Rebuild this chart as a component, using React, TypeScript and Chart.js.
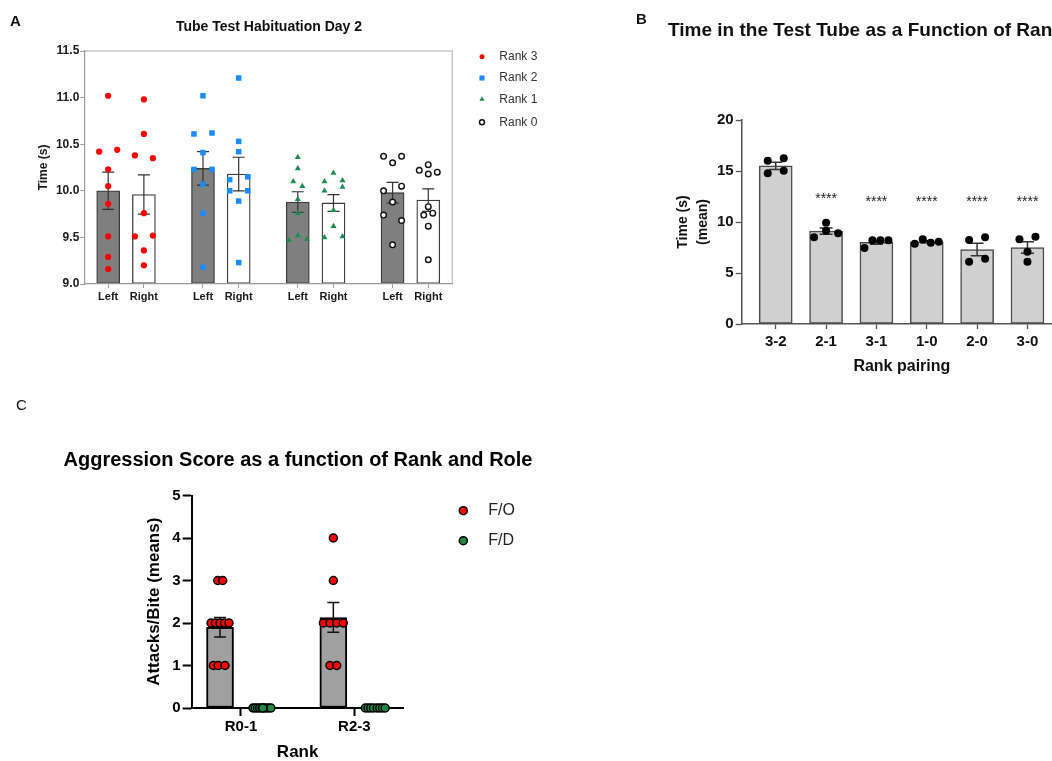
import React, { useEffect, useRef } from 'react';
import { Chart, registerables } from 'chart.js';

Chart.register(...registerables);

const FONT = '"Liberation Sans", Arial, Helvetica, sans-serif';

// ---------------- Panel A data ----------------
const aRanks = ['Rank 3', 'Rank 2', 'Rank 1', 'Rank 0'];
const aSides = ['Left', 'Right'];
const aMeans = [10.0, 9.96, 10.24, 10.18, 9.88, 9.87, 9.98, 9.9];
const aSems = [0.2, 0.21, 0.18, 0.18, 0.11, 0.09, 0.11, 0.12];
const aYTicks = [9.0, 9.5, 10.0, 10.5, 11.0, 11.5];

const aRank3Left = [11.02, 10.42, 10.44, 10.23, 10.05, 9.86, 9.51, 9.29, 9.16];
const aRank3Right = [10.98, 10.61, 10.38, 10.35, 9.76, 9.51, 9.52, 9.36, 9.2];
const aRank2Left = [11.02, 10.61, 10.62, 10.41, 10.23, 10.23, 10.07, 9.76, 9.18];
const aRank2Right = [11.21, 10.53, 10.42, 10.12, 10.15, 10.0, 10.0, 9.89, 9.23];
const aRank1Left = [10.36, 10.24, 10.1, 10.05, 9.91, 9.76, 9.47, 9.52, 9.48];
const aRank1Right = [10.19, 10.1, 10.11, 10.0, 10.04, 9.79, 9.62, 9.5, 9.51];
const aRank0Left = [10.37, 10.3, 10.37, 10.0, 10.05, 9.88, 9.74, 9.68, 9.42];
const aRank0Right = [10.28, 10.22, 10.18, 10.2, 9.83, 9.74, 9.76, 9.62, 9.26];

// beeswarm slots (side-by-side placement of tied points)
const aSlot3L = [0, -1, 1, 0, 0, 0, 0, 0, 0];
const aSlot3R = [0, 0, -1, 1, 0, -1, 1, 0, 0];
const aSlot2L = [0, -1, 1, 0, -1, 1, 0, 0, 0];
const aSlot2R = [0, 0, 0, -1, 1, -1, 1, 0, 0];
const aSlot1L = [0, 0, -0.5, 0.5, 0, 0, -1, 0, 1];
const aSlot1R = [0, -1, 1, -1, 1, 0, 0, -1, 1];
const aSlot0L = [-1, 0, 1, -1, 1, 0, -1, 1, 0];
const aSlot0R = [0, -1, 0, 1, 0, -0.5, 0.5, 0, 0];

// ---------------- Panel B data ----------------
const bPairs = ['3-2', '2-1', '3-1', '1-0', '2-0', '3-0'];
const bMeans = [15.5, 9.1, 8.0, 8.05, 7.3, 7.5];
const bSems = [0.36, 0.3, 0.19, 0.1, 0.62, 0.57];
const bYTicks = [0, 5, 10, 15, 20];
const bSig = ['', '****', '****', '****', '****', '****'];
const bSigY = [0, 12.2, 11.9, 11.9, 11.9, 11.9];

const b32 = [16.01, 16.24, 14.77, 15.03];
const b21 = [9.93, 8.5, 8.89, 9.15];
const b31 = [7.45, 8.2, 8.2, 8.2];
const b10 = [7.86, 8.31, 7.97, 8.07];
const b20 = [8.24, 8.5, 6.11, 6.4];
const b30 = [8.3, 8.56, 7.09, 6.11];

const bSlot32 = [-2, 2, -2, 2];
const bSlot21 = [0, -3, 3, 0];
const bSlot31 = [-3, -1, 1, 3];
const bSlot10 = [-3, -1, 1, 3];
const bSlot20 = [-2, 2, -2, 2];
const bSlot30 = [-2, 2, 0, 0];

// ---------------- Panel C data ----------------
const cGroups = ['R0-1', 'R2-3'];
const cRoles = ['F/O', 'F/D'];
const cFOMeans = [1.9, 2.13];
const cFOSems = [0.23, 0.35];
const cFDMeans = [0, 0];
const cFDSems = [0, 0];
const cYTicks = [0, 1, 2, 3, 4, 5];

const cFO01 = [3, 3, 2, 2, 2, 2, 2, 1, 1, 1];
const cFO23 = [4, 3, 2, 2, 2, 2, 1, 1];
const cFD01 = [0, 0, 0, 0, 0, 0, 0, 0, 0, 0];
const cFD23 = [0, 0, 0, 0, 0, 0, 0, 0];

const cSlotFO01 = [-0.5, 0.6, -2, -1, 0, 1, 2, -1.5, -0.4, 1.1];
const cSlotFO23 = [0, 0, -2.2, -0.75, 0.75, 2.2, -0.75, 0.75];
const cSlotFD01 = [-2, -1.5, -1, -0.5, 0, 0.5, 1, 1.5, 2, 0.2];
const cSlotFD23 = [-2.2, -1.6, -1, -0.4, 0.4, 1, 1.6, 2.2];

// ---------------- layout constants ----------------
const A_SIDE = 0.3766; // offset of Right bar within a rank pair
const A_JIT = 0.095; // one beeswarm slot
const B_JIT = 0.0795;
const C_OFF = 0.185; // role offset within group
const C_JIT = 0.0397;

type Marker = 'circle' | 'rect' | 'triangle';

function drawMarker(
  ctx: CanvasRenderingContext2D,
  style: Marker,
  x: number,
  y: number,
  r: number,
  fill: string,
  stroke: string,
  lw: number
) {
  ctx.save();
  ctx.beginPath();
  if (style === 'rect') {
    const s = r * Math.SQRT1_2;
    ctx.rect(x - s, y - s, 2 * s, 2 * s);
  } else if (style === 'triangle') {
    ctx.moveTo(x, y - r);
    ctx.lineTo(x + r * 0.866, y + r * 0.5);
    ctx.lineTo(x - r * 0.866, y + r * 0.5);
    ctx.closePath();
  } else {
    ctx.arc(x, y, r, 0, Math.PI * 2);
  }
  ctx.fillStyle = fill;
  ctx.fill();
  if (lw > 0) {
    ctx.lineWidth = lw;
    ctx.strokeStyle = stroke;
    ctx.stroke();
  }
  ctx.restore();
}

type TextItem = { text: string; x: number; y: number; font: string; color?: string; align?: CanvasTextAlign };

function textPlugin(items: TextItem[]) {
  return {
    id: 'texts',
    afterDraw(chart: any) {
      const ctx: CanvasRenderingContext2D = chart.ctx;
      items.forEach((it) => {
        ctx.save();
        ctx.font = it.font;
        ctx.fillStyle = it.color || '#000';
        ctx.textAlign = it.align || 'left';
        ctx.textBaseline = 'middle';
        ctx.fillText(it.text, it.x, it.y);
        ctx.restore();
      });
    },
  };
}

const errorBarsPlugin = {
  id: 'errorBars',
  afterDatasetDraw(chart: any, args: any) {
    const ds: any = chart.data.datasets[args.index];
    if (!ds.sem) return;
    const ctx: CanvasRenderingContext2D = chart.ctx;
    const xs = chart.scales.x;
    const ys = chart.scales.y;
    ctx.save();
    ctx.strokeStyle = ds.errColor;
    ctx.lineWidth = ds.errWidth;
    ds.data.forEach((p: any, i: number) => {
      const s = ds.sem[i];
      if (!s) return;
      const px = xs.getPixelForValue(p.x);
      const t = ys.getPixelForValue(p.y + s);
      const b = ys.getPixelForValue(p.y - s);
      const c = ds.errCap;
      ctx.beginPath();
      ctx.moveTo(px, t);
      ctx.lineTo(px, b);
      ctx.moveTo(px - c, t);
      ctx.lineTo(px + c, t);
      ctx.moveTo(px - c, b);
      ctx.lineTo(px + c, b);
      ctx.stroke();
    });
    ctx.restore();
  },
};

function legendPlugin(cfg: { x: number; textX: number; ys: number[]; radii: number[]; font: string; color: string }) {
  return {
    id: 'customLegend',
    afterDraw(chart: any) {
      const ctx: CanvasRenderingContext2D = chart.ctx;
      const sets = chart.data.datasets.filter((d: any) => d.type === 'scatter');
      sets.forEach((d: any, i: number) => {
        drawMarker(ctx, d.pointStyle, cfg.x, cfg.ys[i], cfg.radii[i], d.pointBackgroundColor, d.pointBorderColor, d.pointBorderWidth);
        ctx.save();
        ctx.font = cfg.font;
        ctx.fillStyle = cfg.color;
        ctx.textAlign = 'left';
        ctx.textBaseline = 'middle';
        ctx.fillText(d.label, cfg.textX, cfg.ys[i]);
        ctx.restore();
      });
    },
  };
}

const frameAPlugin = {
  id: 'frameA',
  beforeDatasetsDraw(chart: any) {
    const { left, right, top, bottom } = chart.chartArea;
    const ctx: CanvasRenderingContext2D = chart.ctx;
    ctx.save();
    ctx.strokeStyle = '#c6c6c6';
    ctx.lineWidth = 1.5;
    ctx.beginPath();
    ctx.moveTo(left, top);
    ctx.lineTo(right, top);
    ctx.lineTo(right, bottom);
    ctx.stroke();
    ctx.restore();
  },
};

const sigPlugin = {
  id: 'sig',
  afterDatasetsDraw(chart: any) {
    const ctx: CanvasRenderingContext2D = chart.ctx;
    const xs = chart.scales.x;
    const ys = chart.scales.y;
    ctx.save();
    ctx.font = `14px ${FONT}`;
    ctx.fillStyle = '#222';
    ctx.textAlign = 'center';
    ctx.textBaseline = 'middle';
    bSig.forEach((s, i) => {
      if (!s) return;
      ctx.fillText(s, xs.getPixelForValue(i), ys.getPixelForValue(bSigY[i]));
    });
    ctx.restore();
  },
};

const bold = (size: number) => ({ family: FONT, size, weight: 'bold' as const });

// ---------------- Chart A ----------------
function buildA(): any {
  const pos = (g: number, s: number) => g + s * A_SIDE;
  const bars: any[] = [];
  aRanks.forEach((_r, g) => aSides.forEach((_s, s) => bars.push({ x: pos(g, s), y: aMeans[g * 2 + s] })));
  const pts = (vals: number[], slots: number[], g: number, s: number) =>
    vals.map((v, i) => ({ x: pos(g, s) + slots[i] * A_JIT, y: v }));
  const tickPos: number[] = [];
  const tickLab: string[] = [];
  aRanks.forEach((_r, g) => aSides.forEach((lab, s) => { tickPos.push(pos(g, s)); tickLab.push(lab); }));

  return {
    type: 'bar',
    data: {
      datasets: [
        {
          type: 'bar', data: bars, order: 10, base: aYTicks[0],
          backgroundColor: bars.map((_b, i) => (i % 2 === 0 ? '#7f7f7f' : '#ffffff')),
          borderColor: '#3c3c3c', borderWidth: 1.3, borderSkipped: false, barThickness: 23,
          sem: aSems, errColor: '#333', errWidth: 1.2, errCap: 6,
        },
        {
          type: 'scatter', label: aRanks[0], order: 1, clip: false,
          data: [...pts(aRank3Left, aSlot3L, 0, 0), ...pts(aRank3Right, aSlot3R, 0, 1)],
          pointStyle: 'circle', pointRadius: 3.1, pointBackgroundColor: '#ff0000', pointBorderColor: '#ff0000', pointBorderWidth: 0,
        },
        {
          type: 'scatter', label: aRanks[1], order: 1, clip: false,
          data: [...pts(aRank2Left, aSlot2L, 1, 0), ...pts(aRank2Right, aSlot2R, 1, 1)],
          pointStyle: 'rect', pointRadius: 3.9, pointBackgroundColor: '#1a8cff', pointBorderColor: '#1a8cff', pointBorderWidth: 0,
        },
        {
          type: 'scatter', label: aRanks[2], order: 1, clip: false,
          data: [...pts(aRank1Left, aSlot1L, 2, 0), ...pts(aRank1Right, aSlot1R, 2, 1)],
          pointStyle: 'triangle', pointRadius: 3.5, pointBackgroundColor: '#1f8c4f', pointBorderColor: '#1f8c4f', pointBorderWidth: 0,
        },
        {
          type: 'scatter', label: aRanks[3], order: 1, clip: false,
          data: [...pts(aRank0Left, aSlot0L, 3, 0), ...pts(aRank0Right, aSlot0R, 3, 1)],
          pointStyle: 'circle', pointRadius: 2.8, pointBackgroundColor: '#ffffff', pointBorderColor: '#111111', pointBorderWidth: 1.4,
        },
      ],
    },
    options: {
      responsive: false, animation: false, events: [], devicePixelRatio: 1,
      layout: { autoPadding: false, padding: { left: 0, top: 51, right: 147.7, bottom: 0 } },
      plugins: { legend: { display: false }, tooltip: { enabled: false } },
      scales: {
        x: {
          type: 'linear', min: -0.252, max: 3.63, offset: false,
          afterBuildTicks: (s: any) => { s.ticks = tickPos.map((v) => ({ value: v })); },
          afterFit: (s: any) => { s.height = 36; },
          ticks: { autoSkip: false, maxRotation: 0, minRotation: 0, padding: 2, color: '#1a1a1a', font: bold(11), callback: (_v: any, i: number) => tickLab[i] },
          grid: { drawOnChartArea: false, drawTicks: true, tickLength: 4, tickColor: '#9a9a9a', offset: false },
          border: { display: true, color: '#9a9a9a', width: 1.2, z: 1 },
        },
        y: {
          type: 'linear', min: 9, max: 11.5,
          afterBuildTicks: (s: any) => { s.ticks = aYTicks.map((v) => ({ value: v })); },
          afterFit: (s: any) => { s.width = 84.3; },
          ticks: { padding: 1, color: '#1a1a1a', font: bold(12), callback: (v: any) => Number(v).toFixed(1) },
          grid: { drawOnChartArea: false, tickLength: 4, tickColor: '#9a9a9a' },
          border: { display: true, color: '#9a9a9a', width: 1.2, z: 1 },
          title: { display: true, text: 'Time (s)', color: '#1a1a1a', font: bold(12), padding: { top: 36.8, bottom: 0 } },
        },
      },
    },
    plugins: [
      frameAPlugin,
      errorBarsPlugin,
      textPlugin([
        { text: 'A', x: 10, y: 21.5, font: `bold 15px ${FONT}`, color: '#111' },
        { text: 'Tube Test Habituation Day 2', x: 269, y: 27, font: `bold 14px ${FONT}`, color: '#111', align: 'center' },
      ]),
      legendPlugin({ x: 482, textX: 499.3, ys: [56.7, 78, 99.3, 122.3], radii: [2.5, 3.6, 3.0, 2.5], font: `12px ${FONT}`, color: '#333' }),
    ],
  };
}

// ---------------- Chart B ----------------
function buildB(): any {
  const bars = bPairs.map((_p, i) => ({ x: i, y: bMeans[i] }));
  const groups = [b32, b21, b31, b10, b20, b30];
  const slots = [bSlot32, bSlot21, bSlot31, bSlot10, bSlot20, bSlot30];
  const pts: any[] = [];
  groups.forEach((vals, i) => vals.forEach((v, k) => pts.push({ x: i + slots[i][k] * B_JIT, y: v })));
  return {
    type: 'bar',
    data: {
      datasets: [
        {
          type: 'bar', data: bars, order: 10, base: 0,
          backgroundColor: '#d0d0d0', borderColor: '#4a4a4a', borderWidth: 1.5, borderSkipped: false, barThickness: 33,
          sem: bSems, errColor: '#333', errWidth: 1.5, errCap: 6.5,
        },
        {
          type: 'scatter', label: 'Pairs', order: 1, clip: false, data: pts,
          pointStyle: 'circle', pointRadius: 4, pointBackgroundColor: '#000', pointBorderColor: '#000', pointBorderWidth: 0,
        },
      ],
    },
    options: {
      responsive: false, animation: false, events: [], devicePixelRatio: 1,
      layout: { autoPadding: false, padding: { left: 0, top: 120, right: 0, bottom: 0 } },
      plugins: { legend: { display: false }, tooltip: { enabled: false } },
      scales: {
        x: {
          type: 'linear', min: -0.676, max: 5.686, offset: false,
          afterBuildTicks: (s: any) => { s.ticks = bPairs.map((_p, i) => ({ value: i })); },
          afterFit: (s: any) => { s.height = 56; },
          ticks: { autoSkip: false, maxRotation: 0, minRotation: 0, padding: 4, color: '#111', font: bold(15), callback: (_v: any, i: number) => bPairs[i] },
          grid: { drawOnChartArea: false, tickLength: 5, tickColor: '#555', tickWidth: 1.3, offset: false },
          border: { display: true, color: '#555', width: 1.5 },
          title: { display: true, text: 'Rank pairing', color: '#111', font: bold(16), padding: { top: 0, bottom: 3.4 } },
        },
        y: {
          type: 'linear', min: 0, max: 20,
          afterBuildTicks: (s: any) => { s.ticks = bYTicks.map((v) => ({ value: v })); },
          afterFit: (s: any) => { s.width = 111.7; },
          ticks: { padding: 2, color: '#111', font: bold(15) },
          grid: { drawOnChartArea: false, tickLength: 6, tickColor: '#555', tickWidth: 1.3 },
          border: { display: true, color: '#555', width: 1.5 },
          title: { display: true, text: ['Time (s)', '(mean)'], color: '#111', font: { family: FONT, size: 14, weight: 'bold', lineHeight: 1.43 }, padding: { top: 43, bottom: 0 } },
        },
      },
    },
    plugins: [
      errorBarsPlugin,
      sigPlugin,
      textPlugin([
        { text: 'B', x: 6, y: 20, font: `bold 15px ${FONT}`, color: '#111' },
        { text: 'Time in the Test Tube as a Function of Rank', x: 38, y: 31, font: `bold 19px ${FONT}`, color: '#111' },
      ]),
    ],
  };
}

// ---------------- Chart C ----------------
function buildC(): any {
  const bars = [
    ...cGroups.map((_g, i) => ({ x: i - C_OFF, y: cFOMeans[i] })),
    ...cGroups.map((_g, i) => ({ x: i + C_OFF, y: cFDMeans[i] })),
  ];
  const pts = (vals: number[], slots: number[], base: number) => vals.map((v, k) => ({ x: base + slots[k] * C_JIT, y: v }));
  return {
    type: 'bar',
    data: {
      datasets: [
        {
          type: 'bar', data: bars, order: 10, base: 0,
          backgroundColor: '#a0a0a0', borderColor: '#000', borderWidth: 2, borderSkipped: false, barThickness: 27,
          sem: [...cFOSems, ...cFDSems], errColor: '#111', errWidth: 1.5, errCap: 6,
        },
        {
          type: 'scatter', label: cRoles[0], order: 1, clip: false,
          data: [...pts(cFO01, cSlotFO01, 0 - C_OFF), ...pts(cFO23, cSlotFO23, 1 - C_OFF)],
          pointStyle: 'circle', pointRadius: 4, pointBackgroundColor: '#ff0000', pointBorderColor: '#000', pointBorderWidth: 1.5,
        },
        {
          type: 'scatter', label: cRoles[1], order: 1, clip: false,
          data: [...pts(cFD01, cSlotFD01, 0 + C_OFF), ...pts(cFD23, cSlotFD23, 1 + C_OFF)],
          pointStyle: 'circle', pointRadius: 4, pointBackgroundColor: '#1e8a46', pointBorderColor: '#000', pointBorderWidth: 1.5,
        },
      ],
    },
    options: {
      responsive: false, animation: false, events: [], devicePixelRatio: 1,
      layout: { autoPadding: false, padding: { left: 0, top: 105.5, right: 156.4, bottom: 0 } },
      plugins: { legend: { display: false }, tooltip: { enabled: false } },
      scales: {
        x: {
          type: 'linear', min: -0.435, max: 1.435, offset: false,
          afterBuildTicks: (s: any) => { s.ticks = cGroups.map((_g, i) => ({ value: i })); },
          afterFit: (s: any) => { s.height = 53; },
          ticks: { autoSkip: false, maxRotation: 0, minRotation: 0, padding: 2, color: '#000', font: bold(15), callback: (_v: any, i: number) => cGroups[i] },
          grid: { drawOnChartArea: false, tickLength: 8, tickColor: '#000', tickWidth: 2, offset: false },
          border: { display: true, color: '#000', width: 2 },
          title: { display: true, text: 'Rank', color: '#000', font: { family: FONT, size: 17, weight: 'bold', lineHeight: 1 }, padding: { top: 0, bottom: 0 } },
        },
        y: {
          type: 'linear', min: 0, max: 5,
          afterBuildTicks: (s: any) => { s.ticks = cYTicks.map((v) => ({ value: v })); },
          afterFit: (s: any) => { s.width = 191.7; },
          ticks: { padding: 2, color: '#000', font: bold(15) },
          grid: { drawOnChartArea: false, tickLength: 9, tickColor: '#000', tickWidth: 2 },
          border: { display: true, color: '#000', width: 2 },
          title: { display: true, text: 'Attacks/Bite (means)', color: '#000', font: bold(17), padding: { top: 144.4, bottom: 0 } },
        },
      },
    },
    plugins: [
      errorBarsPlugin,
      textPlugin([
        { text: 'C', x: 16, y: 16, font: `15px ${FONT}`, color: '#111' },
        { text: 'Aggression Score as a function of Rank and Role', x: 298, y: 70.7, font: `bold 20px ${FONT}`, color: '#000', align: 'center' },
      ]),
      legendPlugin({ x: 463.3, textX: 488.3, ys: [120.7, 150.7], radii: [4, 4], font: `16px ${FONT}`, color: '#222' }),
    ],
  };
}

function ChartCanvas({ left, top, width, height, build }: { left: number; top: number; width: number; height: number; build: () => any }) {
  const ref = useRef<HTMLCanvasElement | null>(null);
  useEffect(() => {
    if (!ref.current) return;
    const chart = new Chart(ref.current, build());
    return () => chart.destroy();
  }, [build]);
  return (
    <canvas
      ref={ref}
      width={Math.round(width)}
      height={height}
      style={{ position: 'absolute', left, top, width: Math.round(width), height, display: 'block' }}
    />
  );
}

export default function App() {
  return (
    <div style={{ position: 'fixed', left: 0, top: 0, width: 1052, height: 761, overflow: 'hidden', background: '#ffffff' }}>
      <ChartCanvas left={0} top={0} width={600} height={320} build={buildA} />
      <ChartCanvas left={630} top={0} width={432} height={380} build={buildB} />
      <ChartCanvas left={0} top={390} width={560} height={371} build={buildC} />
    </div>
  );
}
